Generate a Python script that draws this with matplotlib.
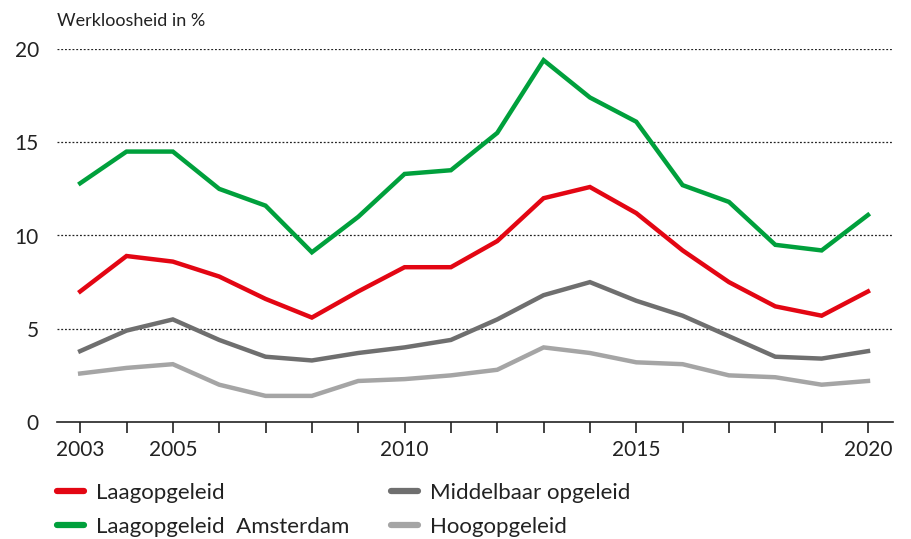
import matplotlib
matplotlib.use("Agg")
import matplotlib.pyplot as plt

years = list(range(2003, 2021))
laag = [7.0, 8.9, 8.6, 7.8, 6.6, 5.6, 7.0, 8.3, 8.3, 9.7, 12.0, 12.6, 11.2, 9.2, 7.5, 6.2, 5.7, 7.0]
laag_ams = [12.8, 14.5, 14.5, 12.5, 11.6, 9.1, 11.0, 13.3, 13.5, 15.5, 19.4, 17.4, 16.1, 12.7, 11.8, 9.5, 9.2, 11.1]
middel = [3.8, 4.9, 5.5, 4.4, 3.5, 3.3, 3.7, 4.0, 4.4, 5.5, 6.8, 7.5, 6.5, 5.7, 4.6, 3.5, 3.4, 3.8]
hoog = [2.6, 2.9, 3.1, 2.0, 1.4, 1.4, 2.2, 2.3, 2.5, 2.8, 4.0, 3.7, 3.2, 3.1, 2.5, 2.4, 2.0, 2.2]

labels = ["Laagopgeleid", "Laagopgeleid  Amsterdam", "Middelbaar opgeleid", "Hoogopgeleid"]
colors = ["#e30613", "#00a03c", "#6f6f6f", "#a5a5a5"]
xtick_labels = {2003: "2003", 2005: "2005", 2010: "2010", 2015: "2015", 2020: "2020"}
yticks = [0, 5, 10, 15, 20]

plt.rcParams['font.family'] = ['Lato', 'DejaVu Sans']
txt = "#222222"

fig = plt.figure(figsize=(9.12, 5.39), dpi=100)
ax = fig.add_axes([57/912, 1-422/539, (893-57)/912, (422-49)/539])

series = [laag, laag_ams, middel, hoog]
handles = []
for s, c, l in zip(series, colors, labels):
    h, = ax.plot(years, s, color=c, lw=3.2, label=l, solid_joinstyle='miter', zorder=3)
    handles.append(h)

ax.set_xlim(2002.5, 2020.54)
ax.set_ylim(0, 20)
ax.set_yticks(yticks)
ax.set_yticklabels([str(v) for v in yticks], fontsize=15, color=txt)
for v in yticks[1:]:
    ax.axhline(v, color="#222222", lw=0.9, ls=(0, (1.5, 1.5)), zorder=1)
ax.tick_params(axis='y', length=0, pad=13)
ax.set_xticks(years)
ax.set_xticklabels([xtick_labels.get(y, "") for y in years], fontsize=15, color=txt)
ax.tick_params(axis='x', length=8, width=1.2, color="#222222", pad=5, direction='out')
for sp in ["top", "right", "left"]:
    ax.spines[sp].set_visible(False)
ax.spines["bottom"].set_linewidth(1.2)
ax.spines["bottom"].set_color("#222222")

fig.text(57/912, 1-21/539, "Werkloosheid in %", fontsize=13, color=txt, va='center', ha='left')

leg = fig.legend(handles, labels, ncol=2,
                 loc='upper left', bbox_to_anchor=(57/912, 1-483/539), frameon=False,
                 fontsize=16, handlelength=1.2, handletextpad=0.55, columnspacing=1.9,
                 labelspacing=0.62, labelcolor=txt, borderaxespad=0, borderpad=0)
for lh in leg.get_lines():
    lh.set_linewidth(4.5)
    lh.set_solid_capstyle('round')

fig.savefig("out.png", dpi=100)
